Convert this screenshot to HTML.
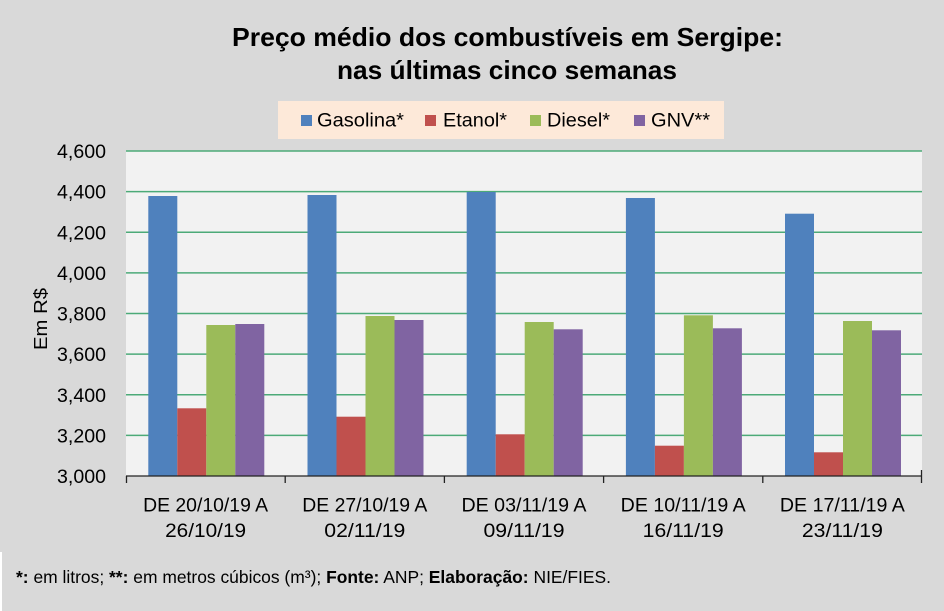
<!DOCTYPE html>
<html>
<head>
<meta charset="utf-8">
<style>
  html, body { margin:0; padding:0; background:#d9d9d9; }
  svg { display:block; }
  text { font-family: "Liberation Sans", "DejaVu Sans", sans-serif; fill:#000; }
</style>
</head>
<body>
<svg width="944" height="611" viewBox="0 0 944 611" xmlns="http://www.w3.org/2000/svg">
  <rect x="0" y="0" width="944" height="611" fill="#d9d9d9"/>
  <rect x="0" y="552" width="2" height="59" fill="#ffffff"/>

  <!-- Title -->
  <text x="507.5" y="46" text-anchor="middle" font-size="26" font-weight="bold" textLength="551" lengthAdjust="spacingAndGlyphs">Preço médio dos combustíveis em Sergipe:</text>
  <text x="507" y="79" text-anchor="middle" font-size="26" font-weight="bold" textLength="340" lengthAdjust="spacingAndGlyphs">nas últimas cinco semanas</text>

  <!-- Legend -->
  <rect x="278" y="101" width="446" height="38" fill="#fde9d9"/>
  <rect x="301" y="115" width="11" height="11" fill="#4f81bd"/>
  <text x="317" y="126.5" font-size="19" textLength="87" lengthAdjust="spacingAndGlyphs">Gasolina*</text>
  <rect x="425" y="115" width="11" height="11" fill="#c0504d"/>
  <text x="443" y="126.5" font-size="19" textLength="64" lengthAdjust="spacingAndGlyphs">Etanol*</text>
  <rect x="530" y="115" width="11" height="11" fill="#9bbb59"/>
  <text x="547" y="126.5" font-size="19" textLength="63" lengthAdjust="spacingAndGlyphs">Diesel*</text>
  <rect x="634" y="115" width="11" height="11" fill="#8064a2"/>
  <text x="651" y="126.5" font-size="19" textLength="59" lengthAdjust="spacingAndGlyphs">GNV**</text>

  <!-- Plot area -->
  <rect x="126" y="151" width="796" height="325" fill="#f2f2f2"/>

  <!-- Gridlines -->
  <g stroke="#4caa78" stroke-width="1.5">
    <line x1="126" y1="151" x2="922" y2="151"/>
    <line x1="126" y1="191.6" x2="922" y2="191.6"/>
    <line x1="126" y1="232.25" x2="922" y2="232.25"/>
    <line x1="126" y1="272.9" x2="922" y2="272.9"/>
    <line x1="126" y1="313.5" x2="922" y2="313.5"/>
    <line x1="126" y1="354.1" x2="922" y2="354.1"/>
    <line x1="126" y1="394.75" x2="922" y2="394.75"/>
    <line x1="126" y1="435.4" x2="922" y2="435.4"/>
  </g>

  <!-- Bars -->
  <rect x="148.3" y="196" width="29" height="280" fill="#4f81bd"/>
  <rect x="177.3" y="408.3" width="29" height="67.7" fill="#c0504d"/>
  <rect x="206.3" y="325" width="29" height="151" fill="#9bbb59"/>
  <rect x="235.3" y="324" width="29" height="152" fill="#8064a2"/>

  <rect x="307.5" y="195" width="29" height="281" fill="#4f81bd"/>
  <rect x="336.5" y="416.7" width="29" height="59.3" fill="#c0504d"/>
  <rect x="365.5" y="316" width="29" height="160" fill="#9bbb59"/>
  <rect x="394.5" y="320" width="29" height="156" fill="#8064a2"/>

  <rect x="466.7" y="192" width="29" height="284" fill="#4f81bd"/>
  <rect x="495.7" y="434.3" width="29" height="41.7" fill="#c0504d"/>
  <rect x="524.7" y="322" width="29" height="154" fill="#9bbb59"/>
  <rect x="553.7" y="329.3" width="29" height="146.7" fill="#8064a2"/>

  <rect x="625.9" y="198" width="29" height="278" fill="#4f81bd"/>
  <rect x="654.9" y="445.7" width="29" height="30.3" fill="#c0504d"/>
  <rect x="683.9" y="315.3" width="29" height="160.7" fill="#9bbb59"/>
  <rect x="712.9" y="328.3" width="29" height="147.7" fill="#8064a2"/>

  <rect x="785.0" y="213.7" width="29" height="262.3" fill="#4f81bd"/>
  <rect x="814.0" y="452.3" width="29" height="23.7" fill="#c0504d"/>
  <rect x="843.0" y="321" width="29" height="155" fill="#9bbb59"/>
  <rect x="872.0" y="330.3" width="29" height="145.7" fill="#8064a2"/>

  <!-- X axis -->
  <g stroke="#222" stroke-width="1.3">
    <line x1="126" y1="476" x2="922" y2="476"/>
    <line x1="126.5" y1="476" x2="126.5" y2="483"/>
    <line x1="285.2" y1="476" x2="285.2" y2="483"/>
    <line x1="444.4" y1="476" x2="444.4" y2="483"/>
    <line x1="603.6" y1="476" x2="603.6" y2="483"/>
    <line x1="762.8" y1="476" x2="762.8" y2="483"/>
    <line x1="921.5" y1="470" x2="921.5" y2="483"/>
  </g>

  <!-- Y tick labels -->
  <g font-size="19.5" text-anchor="end">
    <text x="106" y="158" textLength="49" lengthAdjust="spacingAndGlyphs">4,600</text>
    <text x="106" y="198.6" textLength="49" lengthAdjust="spacingAndGlyphs">4,400</text>
    <text x="106" y="239.25" textLength="49" lengthAdjust="spacingAndGlyphs">4,200</text>
    <text x="106" y="279.9" textLength="49" lengthAdjust="spacingAndGlyphs">4,000</text>
    <text x="106" y="320.5" textLength="49" lengthAdjust="spacingAndGlyphs">3,800</text>
    <text x="106" y="361.1" textLength="49" lengthAdjust="spacingAndGlyphs">3,600</text>
    <text x="106" y="401.75" textLength="49" lengthAdjust="spacingAndGlyphs">3,400</text>
    <text x="106" y="442.4" textLength="49" lengthAdjust="spacingAndGlyphs">3,200</text>
    <text x="106" y="483" textLength="49" lengthAdjust="spacingAndGlyphs">3,000</text>
  </g>

  <!-- Y axis title -->
  <text transform="translate(47,319) rotate(-90)" text-anchor="middle" font-size="18" textLength="62" lengthAdjust="spacingAndGlyphs">Em R$</text>

  <!-- X labels -->
  <g font-size="19.5" text-anchor="middle">
    <text x="205.6" y="511.7" textLength="125" lengthAdjust="spacingAndGlyphs">DE 20/10/19 A</text>
    <text x="205.6" y="537" textLength="81" lengthAdjust="spacingAndGlyphs">26/10/19</text>
    <text x="364.8" y="511.7" textLength="125" lengthAdjust="spacingAndGlyphs">DE 27/10/19 A</text>
    <text x="364.8" y="537" textLength="81" lengthAdjust="spacingAndGlyphs">02/11/19</text>
    <text x="524" y="511.7" textLength="125" lengthAdjust="spacingAndGlyphs">DE 03/11/19 A</text>
    <text x="524" y="537" textLength="81" lengthAdjust="spacingAndGlyphs">09/11/19</text>
    <text x="683.2" y="511.7" textLength="125" lengthAdjust="spacingAndGlyphs">DE 10/11/19 A</text>
    <text x="683.2" y="537" textLength="81" lengthAdjust="spacingAndGlyphs">16/11/19</text>
    <text x="842.4" y="511.7" textLength="125" lengthAdjust="spacingAndGlyphs">DE 17/11/19 A</text>
    <text x="842.4" y="537" textLength="81" lengthAdjust="spacingAndGlyphs">23/11/19</text>
  </g>

  <!-- Footnote -->
  <text x="16" y="583" font-size="17.5" textLength="595" lengthAdjust="spacingAndGlyphs"><tspan font-weight="bold">*:</tspan> em litros; <tspan font-weight="bold">**:</tspan> em metros cúbicos (m³); <tspan font-weight="bold">Fonte:</tspan> ANP; <tspan font-weight="bold">Elaboração:</tspan> NIE/FIES.</text>
</svg>
</body>
</html>
